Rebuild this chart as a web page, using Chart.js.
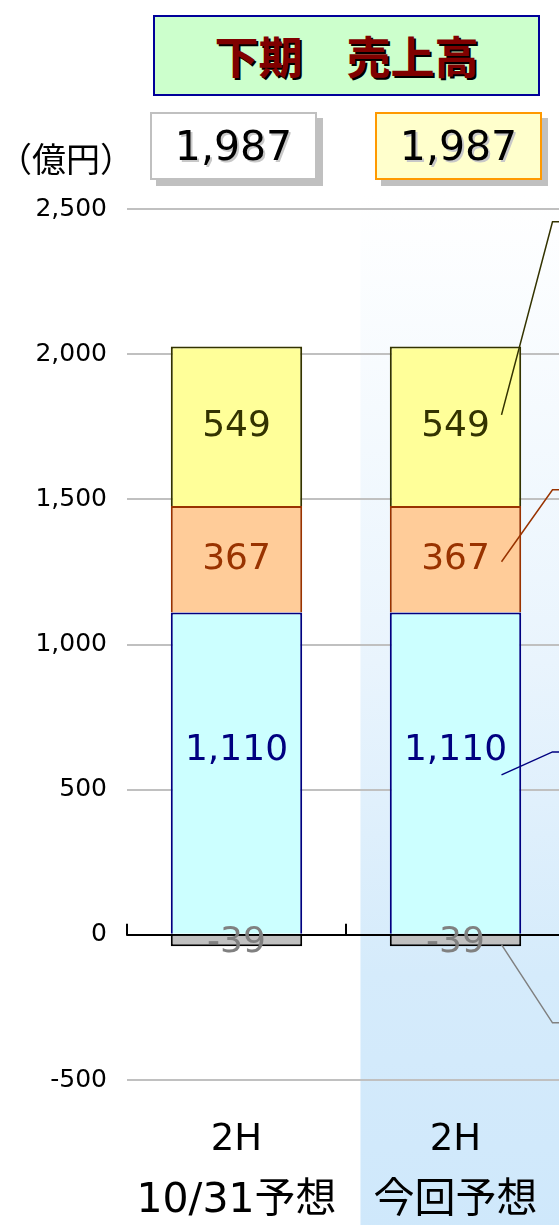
<!DOCTYPE html>
<html>
<head>
<meta charset="utf-8">
<script src="https://cdn.jsdelivr.net/npm/chart.js@4"></script>
<style>
html, body { margin: 0; padding: 0; background: #fff; }
#wrap { position: relative; width: 559px; height: 1225px; overflow: hidden; }
#chart { position: absolute; left: 0; top: 0; }
.box { position: absolute; box-sizing: border-box; text-align: center; white-space: nowrap; }
#title { left: 153px; top: 15px; width: 387px; height: 81px; background: #ccffcc; border: 2px solid #000099;
         font: bold 44px "Noto Sans CJK JP"; color: #800000; line-height: 77px; text-shadow: 2px 2px 0 #000; }
.total { top: 112px; width: 167px; height: 68px; font: 41px "DejaVu Sans"; line-height: 64px; color: #000;
         text-shadow: 2px 2px 0 #c8c8c8; box-shadow: 6px 6px 0 #c0c0c0; }
#total1 { left: 150px; background: #fff; border: 2px solid #c0c0c0; }
#total2 { left: 375px; background: #ffffcc; border: 2px solid #ff9900; }
#unit { position: absolute; left: -2px; top: 133px; font: 34px "Noto Sans CJK JP"; color: #000; }
</style>
</head>
<body>
<div id="wrap">
  <canvas id="chart" width="600" height="1233"></canvas>
  <div class="box" id="title">下期　売上高</div>
  <div class="box total" id="total1"></div>
  <div class="box total" id="total2"></div>
  <div id="unit">（億円）</div>
</div>
<script>
// categories and series (億円)
const periods = ['2H', '2H'];
const forecasts = ['10/31予想', '今回予想'];
const seriesCyan = [1110, 1110];
const seriesOrange = [367, 367];
const seriesYellow = [549, 549];
const seriesGray = [-39, -39];
const yMin = -500, yMax = 2500, yStep = 500;

// header boxes show the sum of each bar
const totals = periods.map((p, i) => seriesCyan[i] + seriesOrange[i] + seriesYellow[i] + seriesGray[i]);
document.getElementById('total1').textContent = totals[0].toLocaleString('en-US');
document.getElementById('total2').textContent = totals[1].toLocaleString('en-US');

// light blue band behind the current forecast column
const bandPlugin = {
    id: 'band',
    beforeDraw(chart) {
        const { ctx, chartArea, scales: { x } } = chart;
        const catW = x.width / periods.length;
        const left = x.getPixelForValue(1) - catW * 0.434;
        const top = chartArea.top - 14;
        const g = ctx.createLinearGradient(0, top, 0, chart.height);
        g.addColorStop(0, '#ffffff');
        g.addColorStop(0.45, '#e9f4fd');
        g.addColorStop(0.75, '#d5ebfb');
        g.addColorStop(1, '#cfe8fb');
        ctx.save();
        ctx.fillStyle = g;
        ctx.fillRect(left, top, chart.width - left, chart.height - top);
        ctx.restore();
    }
};

// small upward ticks on the zero line between categories
const zeroTicks = {
    id: 'zeroTicks',
    beforeDatasetsDraw(chart) {
        const { ctx, scales: { x, y } } = chart;
        const catW = x.width / periods.length;
        const y0 = y.getPixelForValue(0);
        ctx.save();
        ctx.strokeStyle = '#000';
        ctx.lineWidth = 2;
        for (let i = 0; i <= periods.length; i++) {
            const px = x.left + catW * i;
            ctx.beginPath();
            ctx.moveTo(px, y0 + 1);
            ctx.lineTo(px, y0 - 11);
            ctx.stroke();
        }
        ctx.restore();
    }
};

// value labels in each segment, plus leader lines off to the right
const labelPlugin = {
    id: 'segLabels',
    afterDatasetsDraw(chart, args, opts) {
        const { ctx, scales: { y } } = chart;
        ctx.save();
        ctx.font = '36px "DejaVu Sans"';
        ctx.textAlign = 'center';
        ctx.textBaseline = 'middle';
        chart.data.datasets.forEach((ds, i) => {
            const meta = chart.getDatasetMeta(i);
            meta.data.forEach((bar, j) => {
                ctx.fillStyle = ds.labelColor;
                ctx.fillText(ds.data[j].toLocaleString('en-US'), bar.x, (bar.y + bar.base) / 2 + (ds.labelDy || 0));
            });
            const lead = opts.leaders[i];
            const bar = meta.data[periods.length - 1];
            const x1 = bar.x + 46, x2 = bar.x + 97;
            ctx.strokeStyle = ds.labelColor;
            ctx.lineWidth = 1.5;
            ctx.beginPath();
            ctx.moveTo(x1, y.getPixelForValue(lead[0]));
            ctx.lineTo(x2, y.getPixelForValue(lead[1]));
            ctx.lineTo(chart.width, y.getPixelForValue(lead[1]));
            ctx.stroke();
        });
        ctx.restore();
    }
};

new Chart(document.getElementById('chart'), {
    type: 'bar',
    data: {
        labels: periods,
        datasets: [
            { data: seriesCyan, backgroundColor: '#ccffff', borderColor: '#000080', borderWidth: 2, labelColor: '#000080', labelDy: -23 },
            { data: seriesOrange, backgroundColor: '#ffcc99', borderColor: '#993300', borderWidth: 2, labelColor: '#993300' },
            { data: seriesYellow, backgroundColor: '#ffff99', borderColor: '#333300', borderWidth: 2, labelColor: '#333300' },
            { data: seriesGray, backgroundColor: '#c0c0c0', borderColor: '#000000', borderWidth: 2, labelColor: '#808080', labelDy: 2 }
        ]
    },
    options: {
        responsive: false,
        maintainAspectRatio: false,
        animation: false,
        layout: { padding: { top: 209, right: 35, left: 0, bottom: 0 } },
        datasets: { bar: { xAxisID: 'x', categoryPercentage: 1, barPercentage: 0.6 } },
        scales: {
            x: {
                stacked: true,
                afterFit: s => { s.height = 84; },
                grid: { display: false, drawTicks: false },
                border: { display: false },
                ticks: {
                    color: '#000',
                    padding: 38,
                    font: { family: '"DejaVu Sans"', size: 37, lineHeight: 1.2 }
                }
            },
            x2: {
                type: 'category',
                labels: forecasts,
                position: 'bottom',
                offset: true,
                afterFit: s => { s.height = 69; },
                grid: { display: false, drawTicks: false },
                border: { display: false },
                ticks: {
                    color: '#000',
                    padding: 13,
                    font: { family: '"DejaVu Sans", "Noto Sans CJK JP"', size: 41, lineHeight: 1.2 }
                }
            },
            y: {
                stacked: true,
                min: yMin,
                max: yMax,
                afterFit: s => { s.width = 127; },
                grid: {
                    drawTicks: false,
                    lineWidth: 2,
                    color: c => (c.tick && c.tick.value === 0 ? '#000' : '#c0c0c0')
                },
                border: { display: false },
                ticks: {
                    stepSize: yStep,
                    padding: 20,
                    color: '#000',
                    font: { family: '"DejaVu Sans"', size: 25 },
                    callback: v => v.toLocaleString('en-US')
                }
            }
        },
        plugins: {
            legend: { display: false },
            tooltip: { enabled: false },
            segLabels: { leaders: [[551, 630], [1285, 1533], [1791, 2456], [-34, -303]] }
        }
    },
    plugins: [bandPlugin, zeroTicks, labelPlugin]
});
</script>
</body>
</html>
